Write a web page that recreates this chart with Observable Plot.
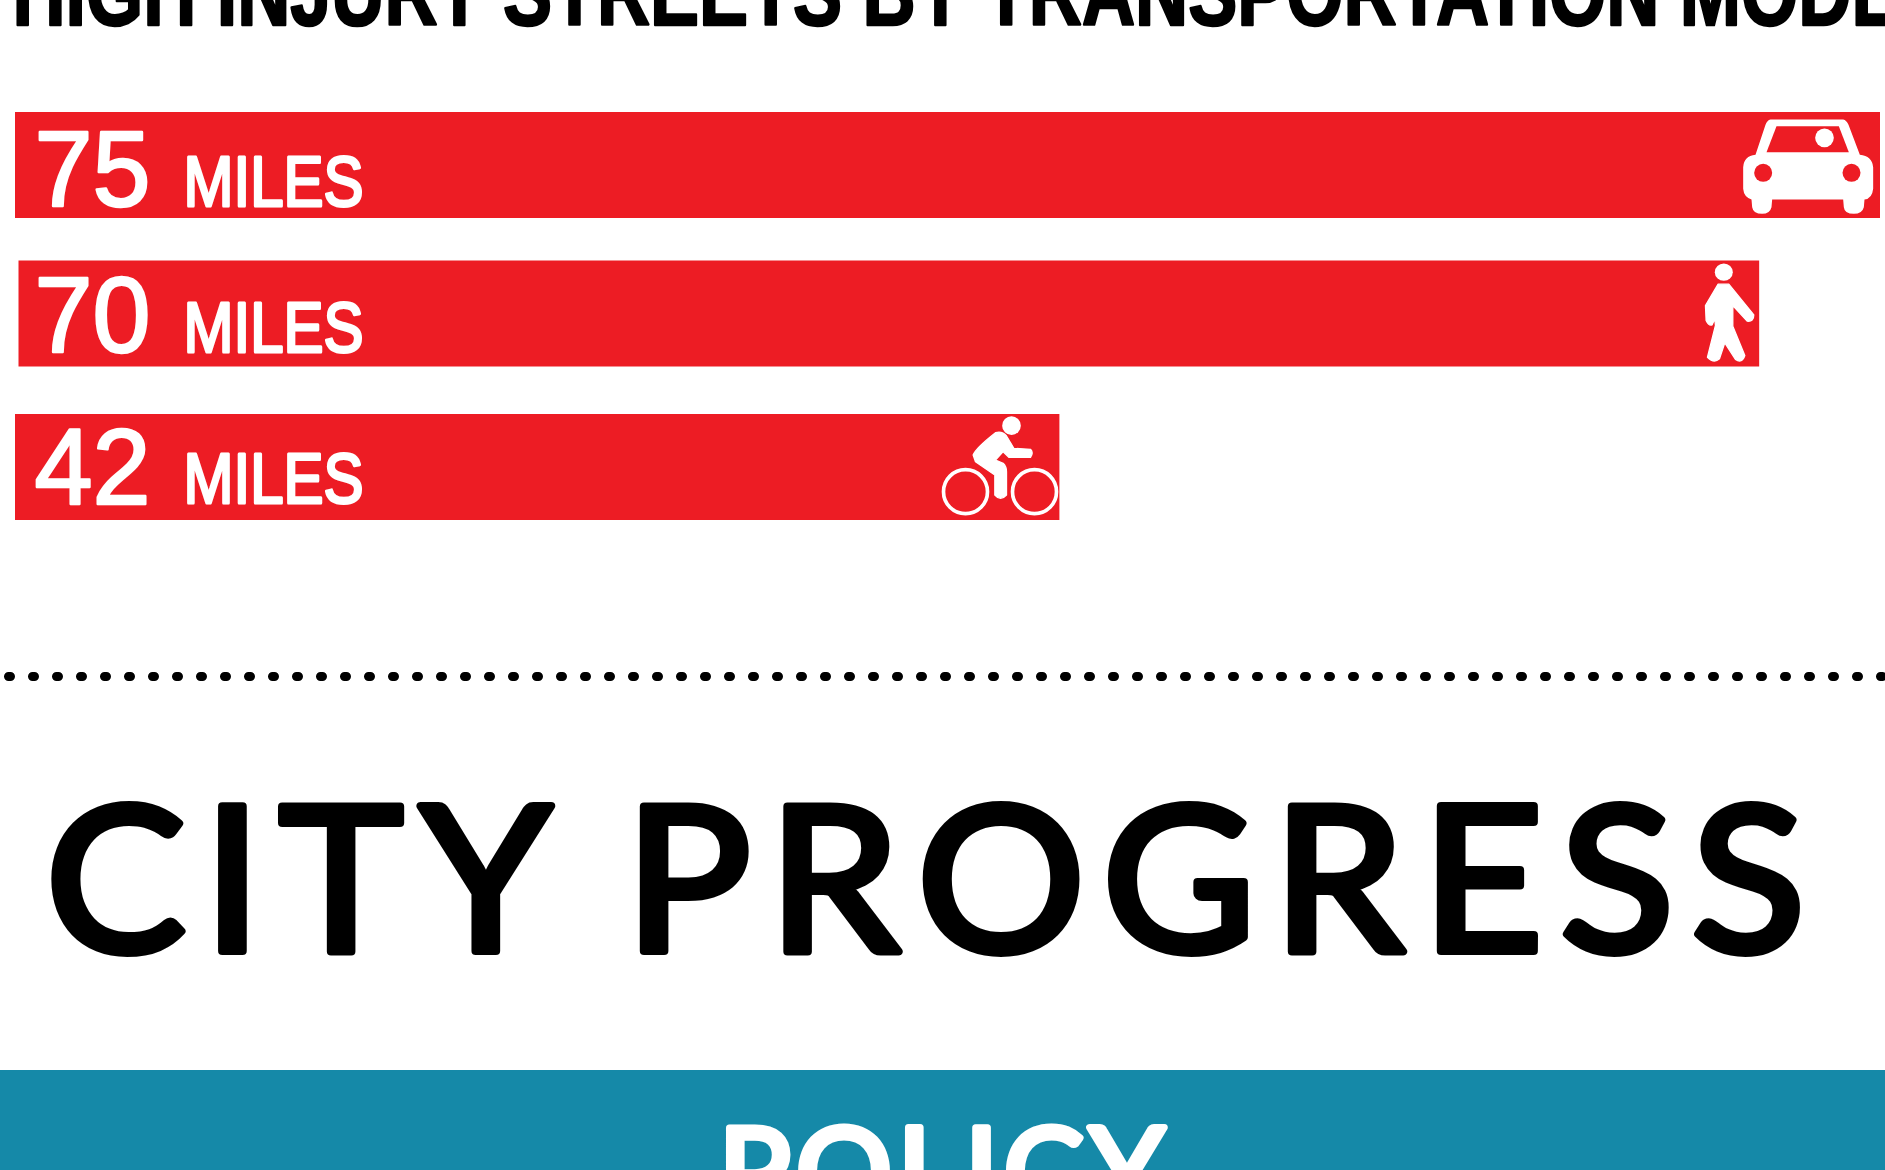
<!DOCTYPE html>
<html>
<head>
<meta charset="utf-8">
<script src="https://cdn.jsdelivr.net/npm/d3@7"></script>
<script src="https://cdn.jsdelivr.net/npm/@observablehq/plot@0.6"></script>
<style>
  html, body { margin: 0; padding: 0; background: #fff; overflow: hidden; }
  #page { position: relative; width: 1885px; height: 1170px; overflow: hidden; background: #fff; }
  #page svg { position: absolute; left: 0; overflow: visible; background: transparent; }
  #band { position: absolute; left: 0; top: 1070px; width: 1885px; height: 100px; background: #1589a8; overflow: hidden; }
</style>
</head>
<body>
<div id="page">
  <div id="band"></div>
</div>
<script>
const titleText = "HIGH INJURY STREETS BY TRANSPORTATION MODE";
const sectionText = "CITY PROGRESS";
const nextSectionText = "POLICY";
const modes = ["Car", "Pedestrian", "Bicycle"];
const miles = [75, 70, 42];
const unitLabel = "MILES";

const red = "#ed1c24";
const svgUri = (w, h, body) => "data:image/svg+xml;utf8," + encodeURIComponent(
  `<svg xmlns="http://www.w3.org/2000/svg" viewBox="0 0 ${w} ${h}" width="${w}" height="${h}">${body}</svg>`);

const icons = {
  Car: svgUri(495, 360, `
    <path fill="#fff" d="M150 42L368 42Q378 44 384 58L418 148Q455 152 458 185L458 250Q455 280 432 282L430 305Q425 325 400 325Q372 325 370 305L368 282L155 282L153 305Q148 325 125 325Q98 325 95 305L93 282Q70 275 68 250L68 185Q70 152 105 148L135 58Q140 44 150 42Z"/>
    <path fill="${red}" d="M168 62L355 62L385 140L138 140Z"/>
    <circle fill="#fff" cx="312" cy="97" r="28"/>
    <circle fill="${red}" cx="128" cy="202" r="27"/>
    <circle fill="${red}" cx="393" cy="202" r="27"/>`),
  Pedestrian: svgUri(210, 345, `
    <ellipse fill="#fff" cx="85" cy="50" rx="27" ry="26"/>
    <path fill="#fff" stroke="#fff" stroke-width="4" stroke-linejoin="round" d="M68 86L100 86L175 178Q175 200 155 197L112 150L112 212L148 300Q140 325 120 312L88 262L72 310Q55 325 36 305L60 210L58 190L50 208Q40 212 32 195L30 150Z"/>`),
  Bicycle: svgUri(420, 345, `
    <circle fill="none" stroke="#fff" stroke-width="11" cx="105" cy="245" r="66"/>
    <circle fill="none" stroke="#fff" stroke-width="11" cx="312" cy="245" r="66"/>
    <circle fill="#fff" cx="243" cy="47" r="28"/>
    <path fill="#fff" stroke="#fff" stroke-width="4" stroke-linejoin="round" d="M128 135Q135 115 195 68Q215 62 228 78L250 115L300 118Q310 128 300 142L235 142L218 125L195 150L218 160Q228 170 228 185L228 255Q210 275 193 255L193 195L135 155Z"/>`)
};

const rows = modes.map((mode, i) => ({mode, miles: miles[i], unit: unitLabel}));
const nudge = {Car: {dx: 0, dy: 0, img: -77.5}, Pedestrian: {dx: 3.5, dy: -2.5, img: -25.7}, Bicycle: {dx: 0, dy: 0, img: -59.4}};
const imgSize = {Car: [165, 120], Pedestrian: [70, 115], Bicycle: [140, 115]};
const imgDy = {Car: 0, Pedestrian: -3.5, Bicycle: 0};
const numDy = {Car: 6, Pedestrian: 1, Bicycle: 1.5};
const unitDy = {Car: 18, Pedestrian: 13, Bicycle: 13.5};

const rowMarks = rows.flatMap(r => {
  const n = nudge[r.mode];
  return [
    Plot.barX([r], {x: "miles", y: "mode", fill: red, dx: n.dx, dy: n.dy}),
    Plot.text([r], {x: () => 0, y: "mode", text: d => String(d.miles), textAnchor: "start", fill: "#fff", stroke: "#fff", strokeWidth: 2.5,
      fontFamily: "Liberation Sans, sans-serif", fontSize: 108, dx: 19, dy: numDy[r.mode], className: "num"}),
    Plot.text([r], {x: () => 0, y: "mode", text: "unit", textAnchor: "start", fill: "#fff", stroke: "#fff", strokeWidth: 3,
      fontFamily: "Liberation Sans, sans-serif", fontSize: 70, dx: 168, dy: unitDy[r.mode], className: "unit"}),
    Plot.image([r], {x: "miles", y: "mode", src: d => icons[d.mode], width: imgSize[r.mode][0], height: imgSize[r.mode][1], dx: n.img, dy: imgDy[r.mode]})
  ];
});

const fit = (root, sel, len) => root.querySelectorAll(sel + " text, text" + sel).forEach(t => {
  t.setAttribute("textLength", len);
  t.setAttribute("lengthAdjust", "spacingAndGlyphs");
});

const chart = Plot.plot({
  width: 1885, height: 540, margin: 0,
  x: {domain: [0, 75], range: [15, 1880], axis: null},
  y: {domain: modes, range: [112, 520], paddingInner: 0.3, paddingOuter: 0, axis: null},
  marks: rowMarks
});
chart.style.top = "0px";
fit(chart, ".num", 116);
fit(chart, ".unit", 180);

const rule = Plot.plot({
  width: 1885, height: 20, margin: 0, marginLeft: 8.5,
  y: {domain: [0, 1], range: [0, 20], axis: null},
  marks: [Plot.ruleY([0.5], {stroke: "#000", strokeWidth: 9, strokeDasharray: "2 22", strokeLinecap: "round"})]
});
rule.style.top = "666px";

const heading = (text, h, opts) => Plot.plot({
  width: 1885, height: h, margin: 0,
  x: {axis: null}, y: {axis: null},
  marks: [Plot.text([text], {frameAnchor: "left", textAnchor: "start", strokeLinejoin: "round", className: "hd", ...opts})]
});
const spaced = (p, ls, ws) => p.querySelectorAll(".hd text, text.hd").forEach(t => {
  t.style.letterSpacing = ls + "px";
  t.style.wordSpacing = ws + "px";
  t.style.fontKerning = "none";
});
const widen = (p, k) => p.querySelectorAll(".hd text, text.hd").forEach(t => {
  t.setAttribute("textLength", t.getComputedTextLength() * k);
  t.setAttribute("lengthAdjust", "spacingAndGlyphs");
});

const title = heading(titleText, 100, {fill: "#000", stroke: "#000", strokeWidth: 2.5, fontSize: 95, fontWeight: "bold",
  fontFamily: "Liberation Sans, sans-serif", dx: 12});
fit(title, ".hd", 1888);
title.style.top = "-56.4px";

const section = heading(sectionText, 240, {fill: "#000", stroke: "#000", strokeWidth: 8, fontSize: 202, fontFamily: "Lato, sans-serif", dx: 45});
spaced(section, 16.5, -14);
section.style.top = "766px";

const next = heading(nextSectionText, 200, {fill: "#fff", stroke: "#fff", strokeWidth: 7, fontSize: 120, fontFamily: "Lato, sans-serif", dx: 718});
spaced(next, 5.5, 0);
next.style.top = "5px";

const page = document.getElementById("page");
page.appendChild(title);
page.appendChild(chart);
page.appendChild(rule);
page.appendChild(section);
document.getElementById("band").appendChild(next);
widen(section, 1.04);
</script>
</body>
</html>
